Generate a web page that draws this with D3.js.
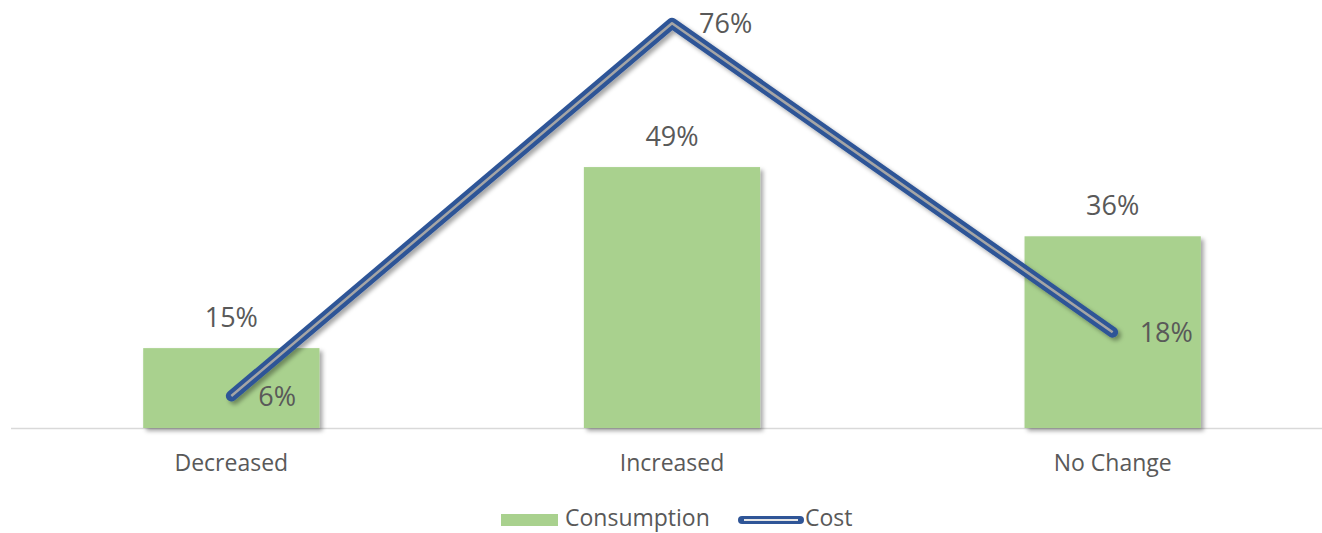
<!DOCTYPE html>
<html>
<head>
<meta charset="utf-8">
<script src="https://cdn.jsdelivr.net/npm/d3@7"></script>
<style>
  body { margin: 0; background: #fff; }
  svg text { font-family: "Open Sans", sans-serif; fill: #595959; }
</style>
</head>
<body>
<div id="chart"></div>
<script>
const categories = ['Decreased', 'Increased', 'No Change'];
const consumption = [0.15, 0.49, 0.36];
const cost = [0.06, 0.76, 0.18];
const seriesNames = ['Consumption', 'Cost'];

const width = 1322, height = 533;
const baseY = 428;

const svg = d3.select('#chart').append('svg')
    .attr('width', width)
    .attr('height', height);

const defs = svg.append('defs');
const shadow = defs.append('filter').attr('id', 'shadow')
    .attr('x', '-10%').attr('y', '-10%').attr('width', '130%').attr('height', '130%');
shadow.append('feDropShadow')
    .attr('dx', 3).attr('dy', 3).attr('stdDeviation', 2)
    .attr('flood-color', '#000').attr('flood-opacity', 0.35);

const x = d3.scaleBand().domain(categories).range([11, 1333])
    .paddingInner(0.6).paddingOuter(0.3);
const y = d3.scaleLinear().domain([0, 0.8]).range([baseY, 2]);
const fmt = d3.format('.0%');

// axis line
svg.append('line')
    .attr('x1', 11).attr('x2', width)
    .attr('y1', baseY + 0.5).attr('y2', baseY + 0.5)
    .attr('stroke', '#d9d9d9').attr('stroke-width', 1.5);

// bars
svg.selectAll('.bar')
    .data(consumption)
    .enter().append('rect')
    .attr('class', 'bar')
    .attr('x', (d, i) => x(categories[i]))
    .attr('width', x.bandwidth())
    .attr('y', d => y(d))
    .attr('height', d => baseY - y(d))
    .attr('fill', '#a9d18e')
    .attr('filter', 'url(#shadow)');

svg.selectAll('.bar-label')
    .data(consumption)
    .enter().append('text')
    .attr('class', 'bar-label')
    .attr('x', (d, i) => x(categories[i]) + x.bandwidth() / 2)
    .attr('y', d => y(d) - 21)
    .attr('text-anchor', 'middle')
    .attr('font-size', 27)
    .text(d => fmt(d));

// cost line
const line = d3.line()
    .x((d, i) => x(categories[i]) + x.bandwidth() / 2)
    .y(d => y(d));

svg.append('path')
    .datum(cost)
    .attr('d', line)
    .attr('fill', 'none')
    .attr('stroke', '#2f5597')
    .attr('stroke-width', 11)
    .attr('stroke-linejoin', 'round')
    .attr('stroke-linecap', 'round')
    .attr('filter', 'url(#shadow)');

svg.append('path')
    .datum(cost)
    .attr('d', line)
    .attr('fill', 'none')
    .attr('stroke', '#a5a5a5')
    .attr('stroke-width', 2.5)
    .attr('stroke-linejoin', 'round');

svg.selectAll('.line-label')
    .data(cost)
    .enter().append('text')
    .attr('class', 'line-label')
    .attr('x', (d, i) => x(categories[i]) + x.bandwidth() / 2 + 27)
    .attr('y', d => y(d) + 10)
    .attr('font-size', 27)
    .text(d => fmt(d));

// category labels
svg.selectAll('.cat')
    .data(categories)
    .enter().append('text')
    .attr('class', 'cat')
    .attr('x', d => x(d) + x.bandwidth() / 2)
    .attr('y', 471)
    .attr('text-anchor', 'middle')
    .attr('font-size', 23)
    .text(d => d);

// legend
const legend = svg.append('g');
legend.append('rect')
    .attr('x', 501).attr('y', 514).attr('width', 57).attr('height', 12)
    .attr('fill', '#a9d18e');
legend.append('text')
    .attr('x', 565).attr('y', 526).attr('font-size', 23)
    .text(seriesNames[0]);
legend.append('line')
    .attr('x1', 742).attr('x2', 800).attr('y1', 520).attr('y2', 520)
    .attr('stroke', '#2f5597').attr('stroke-width', 8).attr('stroke-linecap', 'round');
legend.append('line')
    .attr('x1', 744).attr('x2', 798).attr('y1', 520).attr('y2', 520)
    .attr('stroke', '#e6e6e6').attr('stroke-width', 2);
legend.append('text')
    .attr('x', 805).attr('y', 526).attr('font-size', 23)
    .text(seriesNames[1]);
</script>
</body>
</html>
